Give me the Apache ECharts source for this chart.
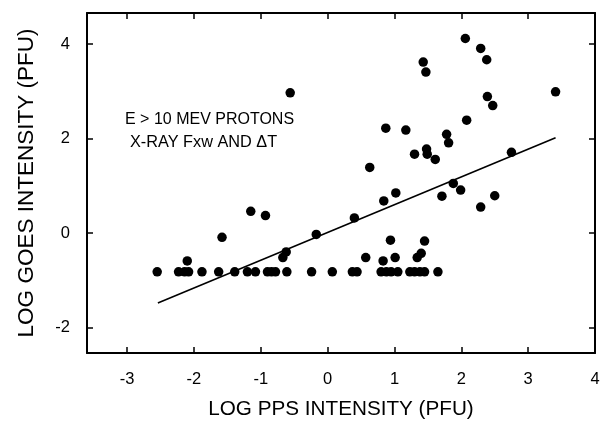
<!DOCTYPE html>
<html>
<head>
<meta charset="utf-8">
<script src="https://cdn.jsdelivr.net/npm/echarts@6/dist/echarts.min.js"></script>
<style>
  html, body { margin: 0; padding: 0; background: #fff; }
  #chart { width: 614px; height: 422px; }
</style>
</head>
<body>
<div id="chart"></div>
<script>
// log PPS intensity vs log GOES intensity (both in PFU)
var ppsLog = [
  -2.55, -2.23, -2.14, -2.08, -1.88, -1.63, -1.39, -1.20, -1.08, -0.90, -0.84, -0.78,
  -0.61, -0.24, 0.07, 0.37, 0.44, 0.80, 0.88, 0.95, 1.05, 1.23, 1.30, 1.38, 1.45, 1.65,
  -2.10, -1.58, -1.15, -0.93, -0.56, -0.67, -0.62, -0.17, 0.40, 0.57, 0.63, 0.83, 0.84,
  0.87, 0.94, 1.01, 1.02, 1.17, 1.30, 1.34, 1.40, 1.45, 1.43, 1.47, 1.48, 1.49, 1.61,
  1.71, 1.78, 1.81, 1.88, 1.99, 2.06, 2.08, 2.29, 2.38, 2.39, 2.47, 2.29, 2.50, 2.75, 3.41
]
var goesLog = [
  -0.82, -0.82, -0.82, -0.82, -0.82, -0.82, -0.82, -0.82, -0.82, -0.82, -0.82, -0.82,
  -0.82, -0.82, -0.82, -0.82, -0.82, -0.82, -0.82, -0.82, -0.82, -0.82, -0.82, -0.82, -0.82, -0.82,
  -0.59, -0.09, 0.46, 0.37, 2.97, -0.52, -0.40, -0.03, 0.32, -0.52, 1.39, -0.59, 0.68,
  2.22, -0.15, -0.52, 0.85, 2.18, 1.67, -0.52, -0.43, -0.17, 3.62, 3.41, 1.78, 1.67, 1.56,
  0.78, 2.09, 1.91, 1.05, 0.91, 4.12, 2.39, 3.91, 3.67, 2.89, 2.70, 0.55, 0.79, 1.71, 2.99
]
// fitted line end points
var fitX = [-2.54, 3.41]
var fitY = [-1.48, 2.02]

var xTicks = [-3, -2, -1, 0, 1, 2, 3, 4]
var yTicks = [-2, 0, 2, 4]

var points = ppsLog.map(function(v, i) { return [v, goesLog[i]] })
var fitLine = fitX.map(function(v, i) { return [v, fitY[i]] })

var font = '"Liberation Sans", Arial, Helvetica, sans-serif'
var axisLine = { show: true, onZero: false, lineStyle: { color: '#000', width: 2 } }

var chart = echarts.init(document.getElementById('chart'))
chart.setOption({
  animation: false,
  backgroundColor: '#fff',
  grid: { left: 87, right: 19, top: 13, bottom: 69, outerBoundsMode: 'none', containLabel: false },
  xAxis: [{
    type: 'value',
    min: -3.6,
    max: 4,
    name: 'LOG PPS INTENSITY (PFU)',
    nameLocation: 'middle',
    nameGap: 46,
    nameTextStyle: { color: '#000', fontSize: 20.7, fontFamily: font },
    axisLine: axisLine,
    axisTick: { show: true, inside: true, length: 6, customValues: xTicks, lineStyle: { color: '#000', width: 1.5 } },
    axisLabel: { show: true, customValues: xTicks, margin: 18, color: '#000', fontSize: 16.5, fontFamily: font },
    splitLine: { show: false }
  }, {
    type: 'value',
    position: 'top',
    min: -3.6,
    max: 4,
    axisLine: axisLine,
    axisTick: { show: true, inside: true, length: 6, customValues: [-3, -2, -1, 0, 1, 2, 3], lineStyle: { color: '#000', width: 1.5 } },
    axisLabel: { show: false },
    splitLine: { show: false }
  }],
  yAxis: [{
    type: 'value',
    min: -2.54,
    max: 4.66,
    name: 'LOG GOES INTENSITY (PFU)',
    nameLocation: 'middle',
    nameGap: 49,
    nameTextStyle: { color: '#000', fontSize: 22.5, fontFamily: font },
    axisLine: axisLine,
    axisTick: { show: true, inside: true, length: 6, customValues: yTicks, lineStyle: { color: '#000', width: 1.5 } },
    axisLabel: { show: true, customValues: yTicks, margin: 17, color: '#000', fontSize: 16.5, fontFamily: font },
    splitLine: { show: false }
  }, {
    type: 'value',
    position: 'right',
    min: -2.54,
    max: 4.66,
    axisLine: axisLine,
    axisTick: { show: true, inside: true, length: 6, customValues: yTicks, lineStyle: { color: '#000', width: 1.5 } },
    axisLabel: { show: false },
    splitLine: { show: false }
  }],
  graphic: [{
    type: 'text',
    left: 125,
    top: 112,
    style: { text: 'E > 10 MEV PROTONS', fill: '#000', fontSize: 16, fontFamily: font }
  }, {
    type: 'text',
    left: 130,
    top: 135,
    style: { text: 'X-RAY Fxw AND \u0394T', fill: '#000', fontSize: 16.3, fontFamily: font }
  }],
  series: [{
    type: 'scatter',
    data: points,
    symbol: 'circle',
    symbolSize: 9.5,
    itemStyle: { color: '#000', opacity: 1 }
  }, {
    type: 'line',
    data: fitLine,
    symbol: 'none',
    lineStyle: { color: '#000', width: 1.6 }
  }]
})
</script>
</body>
</html>
